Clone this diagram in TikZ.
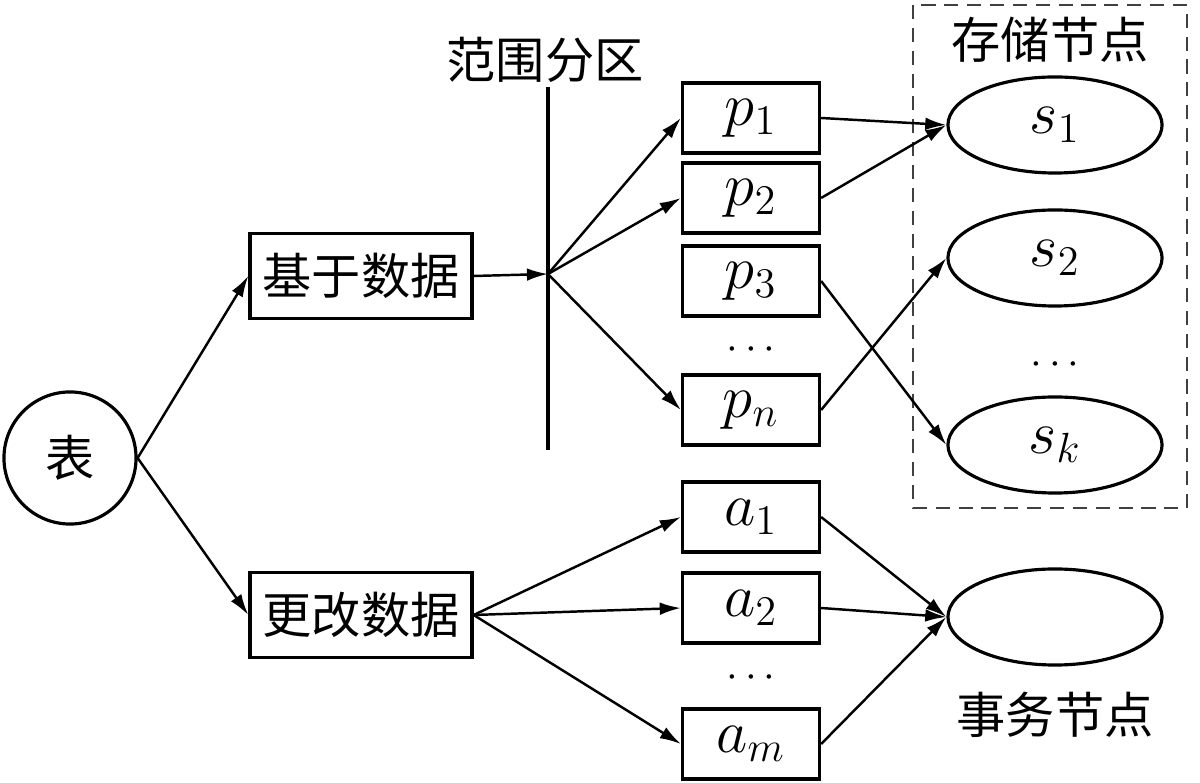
\documentclass[tikz,border=0pt]{standalone}
\usepackage{fontspec}
\newfontfamily\cjk{Noto Sans CJK SC}
\usetikzlibrary{arrows.meta, positioning, shapes.geometric}

\tikzset{
  cjktext/.style={font=\cjk\fontsize{14}{16}\selectfont, inner sep=0pt},
  bigbox/.style={draw, line width=0.9pt, minimum width=2.22cm, minimum height=0.85cm, inner sep=0pt, font=\cjk\fontsize{14}{16}\selectfont},
  partbox/.style={draw, line width=0.9pt, minimum width=1.37cm, minimum height=0.70cm, inner sep=0pt, font=\fontsize{17}{20}\selectfont},
  tablenode/.style={draw, circle, line width=0.9pt, minimum size=1.32cm, inner sep=0pt, font=\cjk\fontsize{14}{16}\selectfont},
  store/.style={draw, ellipse, line width=0.9pt, minimum width=2.14cm, minimum height=0.96cm, inner sep=0pt, font=\fontsize{17}{20}\selectfont},
  dotsnode/.style={inner sep=0pt, font=\fontsize{13}{14}\selectfont},
  link/.style={-{Latex[length=6pt,width=3.6pt]}, line width=0.7pt}
}

\begin{document}
\begin{tikzpicture}[x=0.01cm, y=-0.01cm]
    \useasboundingbox (0,0) rectangle (1200,783);

    % Table
    \node[tablenode] (tab) at (70,458) {表};

    % Data kinds
    \node[bigbox] (base) at (361,276) {基于数据};
    \node[bigbox] (chg) at (361,615) {更改数据};

    % Range partition
    \draw[line width=0.9pt] (548,87) -- (548,450);
    \coordinate (split) at (548,274);
    \node[cjktext] (rangelbl) at (545,60) {范围分区};

    % Partitions
    \node[partbox] (p1) at (751,118) {$p_1$};
    \node[partbox] (p2) at (751,198) {$p_2$};
    \node[partbox] (p3) at (751,281) {$p_3$};
    \node[dotsnode] (pdots) at (751,350) {$\cdots$};
    \node[partbox] (pn) at (751,410) {$p_n$};

    % Changes
    \node[partbox] (a1) at (751,517) {$a_1$};
    \node[partbox] (a2) at (751,608) {$a_2$};
    \node[dotsnode] (adots) at (751,678) {$\cdots$};
    \node[partbox] (am) at (751,744) {$a_m$};

    % Storage nodes
    \draw[dashed, dash pattern=on 4pt off 2.5pt, line width=0.8pt, black!75] (913,5) rectangle (1187,508);
    \node[cjktext] (storelbl) at (1050,40) {存储节点};
    \node[store] (s1) at (1055,125) {$s_1$};
    \node[store] (s2) at (1055,258) {$s_2$};
    \node[dotsnode] (sdots) at (1055,365) {$\cdots$};
    \node[store] (sk) at (1055,445) {$s_k$};

    % Transaction node
    \node[store] (trans) at (1055,617) {};
    \node[cjktext] (translbl) at (1055,715) {事务节点};

    % Connectors
    \draw[link] (tab.east) -- (base.west);
    \draw[link] (tab.east) -- (chg.west);
    \draw[link] (base.east) -- (split);
    \draw[link] (split) -- (p1.west);
    \draw[link] (split) -- (p2.west);
    \draw[link] (split) -- (pn.west);
    \draw[link] (p1.east) -- (s1.west);
    \draw[link] (p2.east) -- (s1.west);
    \draw[link] (p3.east) -- (sk.west);
    \draw[link] (pn.east) -- (s2.west);
    \draw[link] (chg.east) -- (a1.west);
    \draw[link] (chg.east) -- (a2.west);
    \draw[link] (chg.east) -- (am.west);
    \draw[link] (a1.east) -- (trans.west);
    \draw[link] (a2.east) -- (trans.west);
    \draw[link] (am.east) -- (trans.west);
\end{tikzpicture}
\end{document}
